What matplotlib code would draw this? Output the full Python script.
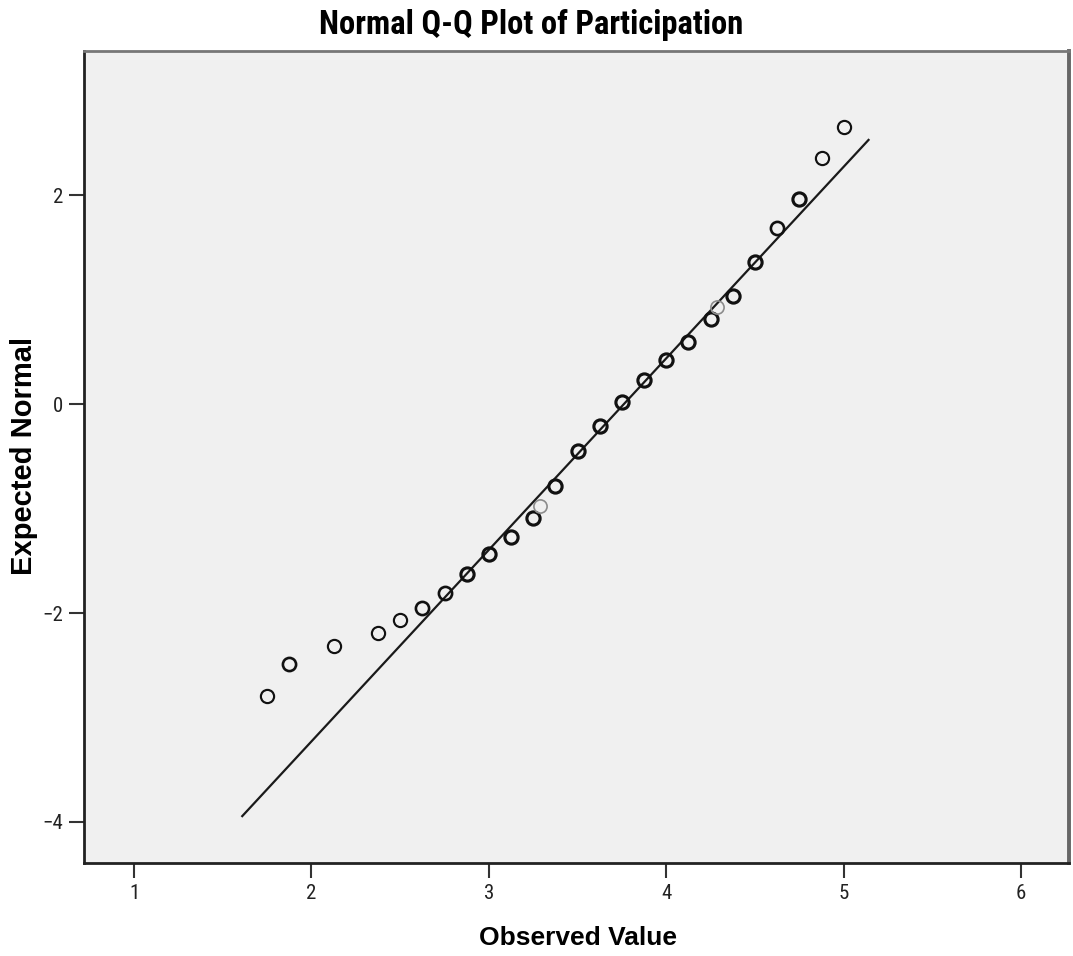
import numpy as np
import matplotlib
matplotlib.use("Agg")
import matplotlib.pyplot as plt

# observed participation scores and their expected normal values
observed = [1.75, 1.875, 2.125, 2.375, 2.5, 2.625, 2.75, 2.875, 3.0, 3.125,
            3.25, 3.2857, 3.375, 3.5, 3.625, 3.75, 3.875, 4.0, 4.125, 4.25,
            4.2857, 4.375, 4.5, 4.625, 4.75, 4.875, 5.0]
expected = [-2.79, -2.49, -2.32, -2.19, -2.07, -1.95, -1.81, -1.63, -1.43, -1.27,
            -1.09, -0.97, -0.78, -0.45, -0.21, 0.02, 0.23, 0.42, 0.60, 0.82,
            0.93, 1.04, 1.36, 1.69, 1.97, 2.36, 2.66]
n_cases = [1, 2, 1, 1, 1, 2, 2, 3, 3, 3, 3, 1, 3, 4, 4, 4, 4, 4, 4, 3,
           1, 3, 3, 2, 3, 1, 1]

# reference line: expected = (x - mean) / sd
mean_val = 3.76
sd_val = 0.545
line_range = [1.61, 5.14]

x_ticks = [1, 2, 3, 4, 5, 6]
y_ticks = [-4, -2, 0, 2]

narrow = ['Liberation Sans Narrow', 'Roboto Condensed', 'Liberation Sans', 'DejaVu Sans']
wide = ['Liberation Sans', 'DejaVu Sans']
plt.rcParams['font.family'] = narrow

fig = plt.figure(figsize=(10.73, 9.56), dpi=100)
ax = fig.add_axes([84 / 1073, 1 - 863 / 956, (1069 - 84) / 1073, (863 - 51) / 956])
ax.set_facecolor('#f0f0f0')

lx = np.array(line_range)
ax.plot(lx, (lx - mean_val) / sd_val, color='#1a1a1a', lw=1.6, zorder=2)

for xv, yv, n in zip(observed, expected, n_cases):
    partial = abs(xv * 8 - round(xv * 8)) > 1e-6
    col = '#8c8c8c' if partial else '#111111'
    lw = 1.2 if partial else 1.2 + 0.35 * min(n, 3)
    ax.plot(xv, yv, 'o', ms=9.5, mfc='none', mec=col, mew=lw, zorder=3)

ax.set_xlim(0.718, 6.27)
ax.set_ylim(-4.394, 3.384)
ax.set_xticks(x_ticks)
ax.set_yticks(y_ticks)
ax.tick_params(direction='out', length=11, width=1.5, color='#333333',
               labelsize=15, labelcolor='#222222', pad=4)

for side in ['left', 'bottom']:
    ax.spines[side].set_color('#222222')
    ax.spines[side].set_linewidth(2)
ax.spines['top'].set_color('#777777')
ax.spines['top'].set_linewidth(2)
ax.spines['right'].set_color('#666666')
ax.spines['right'].set_linewidth(2.8)

fig.text(531 / 1073, 1 - 25 / 956, 'Normal Q-Q Plot of Participation',
         ha='center', va='center', fontsize=23.5, fontweight='bold')
fig.text(578 / 1073, 1 - 938 / 956, 'Observed Value', family=wide,
         ha='center', va='center', fontsize=19, fontweight='bold')
fig.text(24 / 1073, 1 - 456 / 956, 'Expected Normal', rotation=90, family=wide,
         ha='center', va='center', fontsize=21, fontweight='bold')

fig.savefig('out.png', dpi=100, facecolor='white')
